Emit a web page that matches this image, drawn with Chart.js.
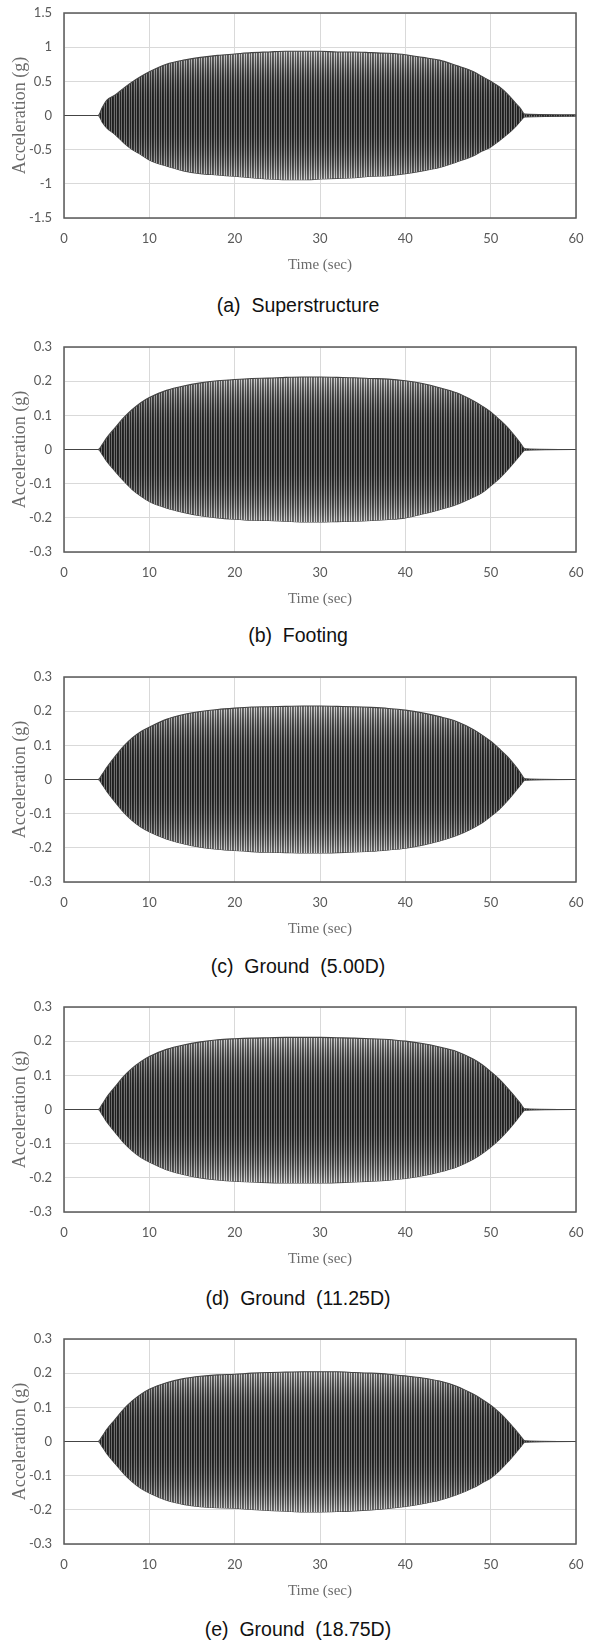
<!DOCTYPE html>
<html>
<head>
<meta charset="utf-8">
<script src="https://cdn.jsdelivr.net/npm/chart.js@4"></script>
<style>
  html, body { margin: 0; padding: 0; background: #fff; }
  body { width: 593px; height: 1646px; position: relative; overflow: hidden; }
  .panel { position: absolute; left: 0; width: 593px; height: 273px; }
  .caption {
    position: absolute; left: 0; width: 596px; text-align: center;
    font-family: "Liberation Sans", Arial, sans-serif; font-size: 19.5px;
    line-height: 22px; color: #111; white-space: pre;
  }
</style>
</head>
<body>
<div class="panel" style="top:1px"><canvas id="chartA" width="593" height="273"></canvas></div>
<div class="caption" style="top:294px">(a)  Superstructure</div>
<div class="panel" style="top:335px"><canvas id="chartB" width="593" height="273"></canvas></div>
<div class="caption" style="top:624px">(b)  Footing</div>
<div class="panel" style="top:665px"><canvas id="chartC" width="593" height="273"></canvas></div>
<div class="caption" style="top:955px">(c)  Ground  (5.00D)</div>
<div class="panel" style="top:995px"><canvas id="chartD" width="593" height="273"></canvas></div>
<div class="caption" style="top:1287px">(d)  Ground  (11.25D)</div>
<div class="panel" style="top:1327px"><canvas id="chartE" width="593" height="273"></canvas></div>
<div class="caption" style="top:1618px">(e)  Ground  (18.75D)</div>

<script>
const times = [0, 4, 4.5, 5, 6, 7, 8, 9, 10, 12, 14, 16, 18, 20, 22, 24, 26, 28, 30, 32,
  34, 36, 38, 40, 42, 44, 46, 48, 49, 50, 51, 52, 53, 53.5, 54, 60];

// (a) superstructure - upper / lower envelope of acceleration (g)
const upperA = [0, 0, 0.12, 0.22, 0.30, 0.40, 0.49, 0.57, 0.64, 0.75, 0.81, 0.85, 0.88, 0.90, 0.92, 0.93, 0.94, 0.94, 0.94, 0.93,
  0.93, 0.92, 0.91, 0.89, 0.85, 0.81, 0.73, 0.64, 0.57, 0.50, 0.42, 0.31, 0.17, 0.10, 0.02, 0.01];
const lowerA = [0, 0, -0.10, -0.18, -0.28, -0.40, -0.50, -0.57, -0.65, -0.74, -0.81, -0.85, -0.87, -0.89, -0.91, -0.93, -0.94, -0.94, -0.93, -0.92,
  -0.91, -0.89, -0.88, -0.85, -0.81, -0.76, -0.68, -0.59, -0.52, -0.46, -0.37, -0.27, -0.15, -0.08, -0.02, -0.01];

// (b) footing
const upperB = [0, 0, 0.015, 0.034, 0.064, 0.093, 0.117, 0.137, 0.152, 0.173, 0.186, 0.195, 0.201, 0.205, 0.208, 0.209, 0.211, 0.212, 0.212, 0.211,
  0.210, 0.208, 0.206, 0.201, 0.193, 0.181, 0.166, 0.142, 0.127, 0.110, 0.088, 0.064, 0.034, 0.018, 0.002, 0];
const lowerB = [0, 0, -0.015, -0.034, -0.064, -0.092, -0.117, -0.136, -0.152, -0.171, -0.184, -0.194, -0.200, -0.204, -0.207, -0.208, -0.210, -0.212, -0.212, -0.211,
  -0.210, -0.208, -0.205, -0.200, -0.189, -0.176, -0.161, -0.139, -0.126, -0.106, -0.085, -0.059, -0.030, -0.015, -0.002, 0];

// (c) ground 5.00D
const upperC = [0, 0, 0.016, 0.035, 0.068, 0.098, 0.122, 0.140, 0.153, 0.176, 0.190, 0.199, 0.205, 0.209, 0.212, 0.213, 0.214, 0.215, 0.215, 0.214,
  0.213, 0.211, 0.208, 0.203, 0.195, 0.184, 0.170, 0.146, 0.130, 0.112, 0.090, 0.066, 0.036, 0.019, 0.002, 0];
const lowerC = [0, 0, -0.015, -0.034, -0.066, -0.096, -0.120, -0.139, -0.153, -0.174, -0.188, -0.198, -0.204, -0.208, -0.211, -0.213, -0.214, -0.215, -0.215, -0.214,
  -0.212, -0.210, -0.206, -0.201, -0.192, -0.180, -0.164, -0.141, -0.127, -0.108, -0.087, -0.061, -0.031, -0.016, -0.002, 0];

// (d) ground 11.25D
const upperD = [0, 0, 0.016, 0.036, 0.067, 0.097, 0.121, 0.140, 0.155, 0.176, 0.189, 0.198, 0.204, 0.207, 0.209, 0.210, 0.211, 0.211, 0.211, 0.210,
  0.209, 0.207, 0.205, 0.200, 0.193, 0.183, 0.170, 0.147, 0.131, 0.111, 0.089, 0.062, 0.033, 0.017, 0.002, 0];
const lowerD = [0, 0, -0.016, -0.036, -0.067, -0.097, -0.121, -0.140, -0.154, -0.176, -0.190, -0.200, -0.206, -0.210, -0.212, -0.214, -0.215, -0.215, -0.215, -0.214,
  -0.212, -0.210, -0.207, -0.202, -0.194, -0.183, -0.168, -0.145, -0.129, -0.110, -0.088, -0.062, -0.032, -0.016, -0.002, 0];

// (e) ground 18.75D
const upperE = [0, 0, 0.016, 0.035, 0.065, 0.095, 0.119, 0.138, 0.153, 0.172, 0.184, 0.191, 0.195, 0.197, 0.200, 0.202, 0.203, 0.204, 0.204, 0.204,
  0.202, 0.200, 0.197, 0.192, 0.186, 0.177, 0.162, 0.138, 0.123, 0.106, 0.085, 0.060, 0.031, 0.016, 0.002, 0];
const lowerE = [0, 0, -0.016, -0.035, -0.065, -0.094, -0.118, -0.137, -0.151, -0.172, -0.184, -0.191, -0.194, -0.195, -0.199, -0.202, -0.204, -0.206, -0.206, -0.205,
  -0.203, -0.200, -0.196, -0.190, -0.182, -0.172, -0.156, -0.135, -0.121, -0.107, -0.086, -0.060, -0.031, -0.016, -0.002, 0];

// axis ticks
const timeTicks = [0, 10, 20, 30, 40, 50, 60];
const accelTicksA = [-1.5, -1, -0.5, 0, 0.5, 1, 1.5];
const accelTicks = [-0.3, -0.2, -0.1, 0, 0.1, 0.2, 0.3];

const panels = [
  { id: "chartA", upper: upperA, lower: lowerA, yTicks: accelTicksA },
  { id: "chartB", upper: upperB, lower: lowerB, yTicks: accelTicks },
  { id: "chartC", upper: upperC, lower: lowerC, yTicks: accelTicks },
  { id: "chartD", upper: upperD, lower: lowerD, yTicks: accelTicks },
  { id: "chartE", upper: upperE, lower: lowerE, yTicks: accelTicks },
];

const GRAY = "#595959";

// dense oscillation look: thin vertical stripes, lighter toward the peaks
function stripePattern(chart, amp) {
  const y = chart.scales.y;
  if (!chart.chartArea || !y) return "#3c3c3c";
  if (chart.$stripes) return chart.$stripes;
  const zero = y.getPixelForValue(0);
  const half = Math.abs(y.getPixelForValue(amp) - zero) || 1;
  const c = document.createElement("canvas");
  c.width = 5;
  c.height = chart.height;
  const g = c.getContext("2d");
  for (let row = 0; row < c.height; row++) {
    const r = Math.min(Math.abs(row + 0.5 - zero) / half, 1);
    const k = Math.pow(r, 2.5);
    const dark = Math.round(30 + 70 * k);
    const light = Math.round(110 + 105 * k);
    const cols = [dark, light, dark, dark + 12, light];
    cols.forEach((v, i) => {
      g.fillStyle = `rgb(${v},${v},${v})`;
      g.fillRect(i, row, 1, 1);
    });
  }
  chart.$stripes = chart.ctx.createPattern(c, "repeat");
  return chart.$stripes;
}

const frame = {
  id: "frame",
  afterDatasetsDraw(chart) {
    const { ctx, chartArea: a } = chart;
    ctx.save();
    ctx.strokeStyle = GRAY;
    ctx.lineWidth = 1.5;
    ctx.strokeRect(a.left, a.top, a.right - a.left, a.bottom - a.top);
    ctx.restore();
  },
};

panels.forEach((p) => {
  const amp = Math.max(...p.upper);
  const ctx = document.getElementById(p.id).getContext("2d");
  new Chart(ctx, {
    type: "line",
    data: {
      datasets: [
        {
          label: "upper",
          data: times.map((t, i) => ({ x: t, y: p.upper[i] })),
          borderColor: "#444",
          borderWidth: 1.1,
          backgroundColor: (c) => stripePattern(c.chart, amp),
          fill: "+1",
          pointRadius: 0,
          cubicInterpolationMode: "monotone",
        },
        {
          label: "lower",
          data: times.map((t, i) => ({ x: t, y: p.lower[i] })),
          borderColor: "#444",
          borderWidth: 1.1,
          fill: false,
          pointRadius: 0,
          cubicInterpolationMode: "monotone",
        },
      ],
    },
    options: {
      responsive: false,
      animation: false,
      devicePixelRatio: 1,
      layout: { padding: { top: 12, right: 17, left: 0, bottom: 0 } },
      plugins: { legend: { display: false }, tooltip: { enabled: false } },
      scales: {
        x: {
          type: "linear",
          min: 0,
          max: 60,
          afterBuildTicks: (axis) => { axis.ticks = timeTicks.map((v) => ({ value: v })); },
          afterFit: (axis) => { axis.height = 56; },
          grid: { color: "#d9d9d9", lineWidth: 1, drawTicks: true, tickLength: 10, tickColor: "rgba(0,0,0,0)" },
          border: { display: false },
          ticks: {
            padding: 3,
            maxRotation: 0,
            autoSkip: false,
            color: GRAY,
            font: { family: "Lato", size: 13 },
            callback: (v) => String(v),
          },
          title: {
            display: true,
            text: "Time (sec)",
            color: "#6b6b6b",
            font: { family: "Liberation Serif", size: 15 },
            padding: { top: 0, bottom: 0 },
          },
        },
        y: {
          min: p.yTicks[0],
          max: p.yTicks[p.yTicks.length - 1],
          afterBuildTicks: (axis) => { axis.ticks = p.yTicks.map((v) => ({ value: v })); },
          afterFit: (axis) => { axis.width = 64; },
          grid: { color: "#d9d9d9", lineWidth: 1, drawTicks: true, tickLength: 9, tickColor: "rgba(0,0,0,0)" },
          border: { display: false },
          ticks: {
            padding: 3,
            autoSkip: false,
            color: GRAY,
            font: { family: "Lato", size: 13 },
            callback: (v) => String(Math.round(v * 10) / 10),
          },
          title: {
            display: true,
            text: "Acceleration (g)",
            color: "#6b6b6b",
            font: { family: "Liberation Serif", size: 18 },
            padding: { top: 9, bottom: 0 },
          },
        },
      },
    },
    plugins: [frame],
  });
});
</script>
</body>
</html>
